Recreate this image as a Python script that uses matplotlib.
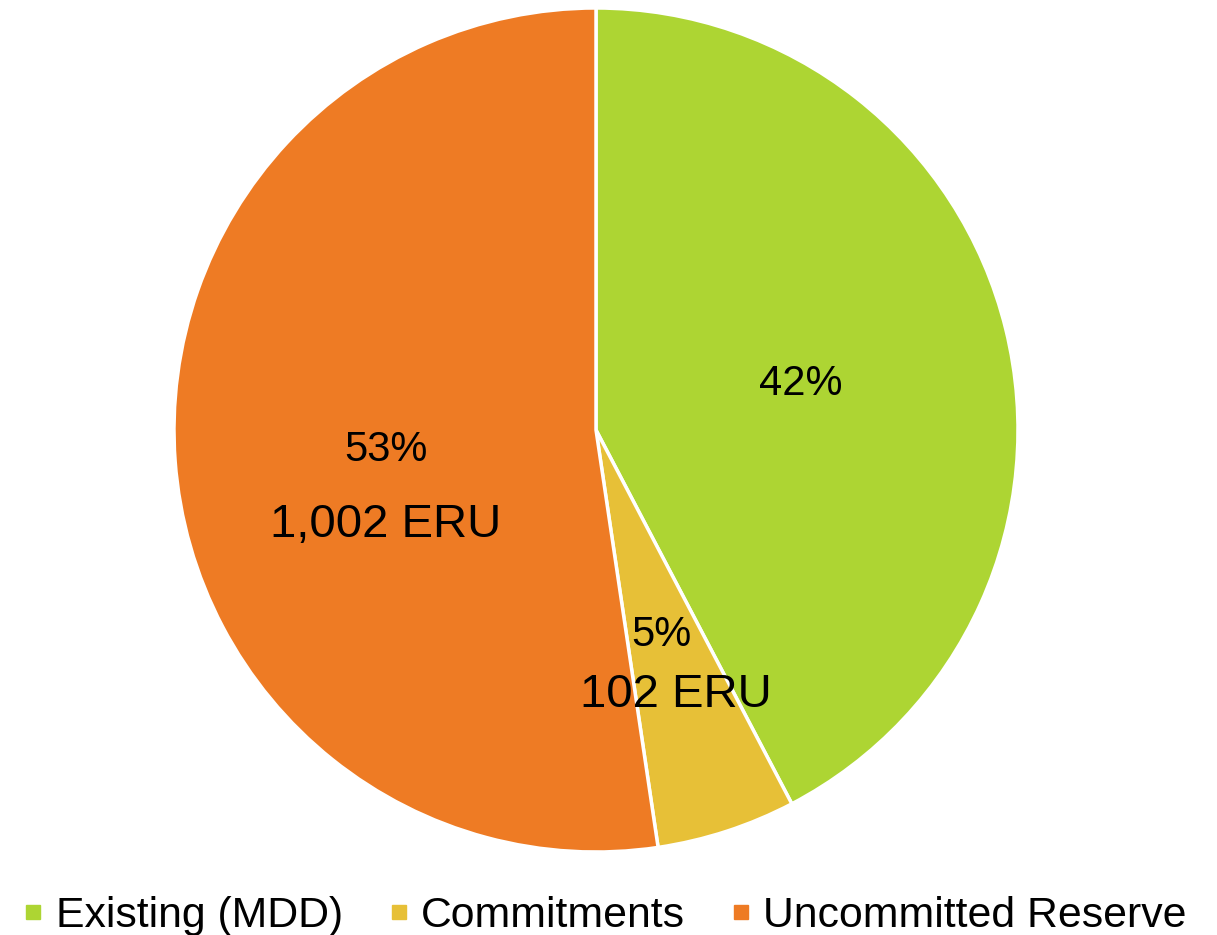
import numpy as np
import matplotlib
matplotlib.use("Agg")
import matplotlib.pyplot as plt
from matplotlib.lines import Line2D

plt.rcParams["font.family"] = ["Liberation Sans", "DejaVu Sans"]

categories = ["Existing (MDD)", "Commitments", "Uncommitted Reserve"]
eru_values = [810, 102, 1002]
pct_labels = ["42%", "5%", "53%"]
eru_labels = [None, "102 ERU", "1,002 ERU"]
colors = ["#ADD533", "#E7C037", "#EE7B24"]

fig = plt.figure(figsize=(12.17, 9.35), dpi=100)
cx, cy, r = 596, 430, 422
W, H = 1217, 935
ax = fig.add_axes([(cx - r) / W, (H - cy - r) / H, 2 * r / W, 2 * r / H])

wedges, _ = ax.pie(
    eru_values, colors=colors, startangle=90, counterclock=False,
    wedgeprops=dict(edgecolor="white", linewidth=2.5),
)
ax.set_xlim(-1, 1)
ax.set_ylim(-1, 1)
ax.set_aspect("equal")
ax.axis("off")

# extra line gap (data units) for the ERU line below the percent
gaps = [0, 0.142, 0.178]
xshift = [0, 0.035, 0.0]
for w, pct, lab, gap, dx in zip(wedges, pct_labels, eru_labels, gaps, xshift):
    mid = np.deg2rad((w.theta1 + w.theta2) / 2)
    x, y = 0.5 * np.cos(mid), 0.5 * np.sin(mid) - 0.011
    ax.text(x, y, pct, ha="center", va="center", fontsize=30, color="black")
    if lab:
        ax.text(x + dx, y - gap, lab, ha="center", va="center",
                fontsize=34, color="black")

handles = [Line2D([], [], marker="s", linestyle="none", markersize=10,
                  markerfacecolor=c, markeredgecolor=c) for c in colors]
fig.legend(handles, categories, loc="lower center", bbox_to_anchor=(0.496, -0.042),
           ncol=3, frameon=False, fontsize=30.8, handlelength=0.6,
           handletextpad=0.23, columnspacing=1.0)

fig.savefig("out.png", dpi=100)
